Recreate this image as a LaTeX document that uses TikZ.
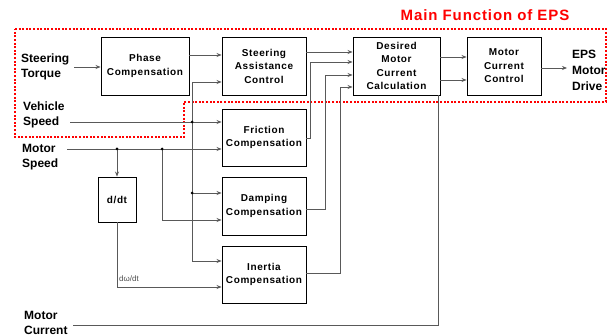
\documentclass[tikz,border=0pt]{standalone}
\usepackage{fontspec}
\setmainfont{Liberation Sans}
\newfontfamily\spacedsans[LetterSpace=6]{Liberation Sans}
\usetikzlibrary{arrows.meta}
\begin{document}
\begin{tikzpicture}[x=1pt,y=-1pt,
  box/.style={draw=black, line width=0.9pt, align=center, inner sep=0pt,
    font=\spacedsans\bfseries\fontsize{10}{13.5}\selectfont},
  lbl/.style={font=\bfseries\fontsize{12}{14.5}\selectfont, align=left, inner sep=0pt, anchor=west},
  wire/.style={draw=black!65, line width=0.7pt},
  arr/.style={wire, -{Stealth[length=5pt,width=4pt]}},
  jdot/.style={circle, fill=black, inner sep=0pt, minimum size=3pt},
  region/.style={draw=red, line width=2pt, dash pattern=on 2pt off 1.6pt}
]
\useasboundingbox (0,0) rectangle (612,336);

% main-function region
\draw[region] (15,29) -- (606,29) -- (606,102) -- (184,102) -- (184,137) -- (15,137) -- cycle;
\node[text=red, font=\spacedsans\bfseries\fontsize{15}{18}\selectfont, inner sep=0pt] (title) at (485,15) {Main Function of EPS};

% blocks
\node[box, minimum width=88pt, minimum height=58pt] (phase) at (145,66) {Phase\\Compensation};
\node[box, minimum width=84pt, minimum height=58pt] (sac) at (264,66) {Steering\\Assistance\\Control};
\node[box, minimum width=84pt, minimum height=57pt] (fric) at (264,137.5) {Friction\\Compensation};
\node[box, minimum width=84pt, minimum height=58pt] (damp) at (264,206) {Damping\\Compensation};
\node[box, minimum width=84pt, minimum height=57pt] (inert) at (264,274.5) {Inertia\\Compensation};
\node[box, minimum width=38pt, minimum height=45pt] (ddt) at (117,199.5) {d/dt};
\node[box, minimum width=87pt, minimum height=58pt] (dmcc) at (396.5,66) {Desired\\Motor\\Current\\Calculation};
\node[box, minimum width=74pt, minimum height=58pt] (mcc) at (504,66) {Motor\\Current\\Control};

% signal labels
\node[lbl] (torque) at (21,67) {Steering\\Torque};
\node[lbl] (vspeed) at (23,115) {Vehicle\\Speed};
\node[lbl] (mspeed) at (22,157) {Motor\\Speed};
\node[lbl] (mcur) at (24,323) {Motor\\Current};
\node[lbl, font=\bfseries\fontsize{12}{16}\selectfont] (drive) at (572,70.5) {EPS\\Motor\\Drive};
\node[anchor=west, inner sep=0pt, text=black!70, font=\fontsize{8}{9}\selectfont] (dwdt) at (119,279) {dω/dt};

% wire end points and junctions
\coordinate (tq) at (74,67);
\coordinate (vs) at (70,122);
\coordinate (ms) at (67,149);
\coordinate (mc) at (73,325);
\coordinate (vbus) at (192,122);
\coordinate (vbranch) at (192,193);
\coordinate (msa) at (117,149);
\coordinate (msb) at (162,149);
\coordinate (out) at (567,68);

% inputs
\draw[arr] (tq) -- (tq -| phase.west);
\draw[arr] (phase.east |- 0,55) -- (sac.west |- 0,55);
\draw[arr] (vs) -- (vs -| fric.west);
\draw[arr] (vbus) |- (sac.west |- 0,82);
\draw[arr] (vbus) |- (damp.west |- 0,193);
\draw[arr] (vbus) |- (inert.west |- 0,261);
\draw[arr] (ms) -- (ms -| fric.west);
\draw[arr] (msa) -- (ddt.north);
\draw[arr] (msb) |- (damp.west |- 0,220);
\draw[arr] (ddt.south) |- (inert.west |- 0,287);

% compensation outputs
\draw[arr] (sac.east |- 0,52) -- (dmcc.west |- 0,52);
\draw[arr] (fric.east |- 0,138) -- (310,138) -- (310,62) -- (dmcc.west |- 0,62);
\draw[arr] (damp.east |- 0,209) -- (325,209) -- (325,75) -- (dmcc.west |- 0,75);
\draw[arr] (inert.east |- 0,273) -- (340,273) -- (340,87) -- (dmcc.west |- 0,87);

% current path
\draw[arr] (dmcc.east |- 0,57) -- (mcc.west |- 0,57);
\draw[arr] (dmcc.east |- 0,80) -- (mcc.west |- 0,80);
\draw[arr] (mcc.east |- out) -- (out);
\draw[wire] (mc) -| ([xshift=-2pt]dmcc.south east);

% junction dots
\node[jdot] at (vbus) {};
\node[jdot] at (vbranch) {};
\node[jdot] at (msa) {};
\node[jdot] at (msb) {};
\end{tikzpicture}
\end{document}
